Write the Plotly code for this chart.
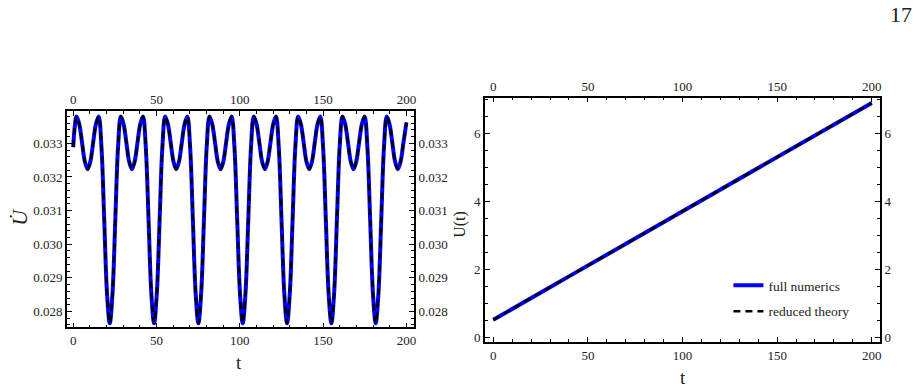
import plotly.graph_objects as go

W, H = 921, 392

# ---------------- data ----------------
t_udot = [0.00, 1.00,
          2.00, 3.66, 5.33, 6.99, 8.65, 10.31, 11.98, 13.64, 15.30, 16.96, 18.63, 20.29, 21.95, 23.61, 25.28, 26.94,
          28.60, 30.26, 31.93, 33.59, 35.25, 36.91, 38.58, 40.24, 41.90, 43.56, 45.23, 46.89, 48.55, 50.21, 51.88, 53.54,
          55.20, 56.86, 58.53, 60.19, 61.85, 63.51, 65.18, 66.84, 68.50, 70.16, 71.83, 73.49, 75.15, 76.81, 78.48, 80.14,
          81.80, 83.46, 85.13, 86.79, 88.45, 90.11, 91.78, 93.44, 95.10, 96.76, 98.43, 100.09, 101.75, 103.41, 105.08, 106.74,
          108.40, 110.06, 111.73, 113.39, 115.05, 116.71, 118.38, 120.04, 121.70, 123.36, 125.03, 126.69, 128.35, 130.01, 131.68, 133.34,
          135.00, 136.66, 138.33, 139.99, 141.65, 143.31, 144.98, 146.64, 148.30, 149.96, 151.63, 153.29, 154.95, 156.61, 158.28, 159.94,
          161.60, 163.26, 164.93, 166.59, 168.25, 169.91, 171.58, 173.24, 174.90, 176.56, 178.23, 179.89, 181.55, 183.21, 184.88, 186.54,
          188.20, 189.86, 191.53, 193.19, 194.85, 196.51, 198.18, 200.00]

udot_full = [0.03289, 0.03352,
             0.03380, 0.03357, 0.03302, 0.03246, 0.03223, 0.03246, 0.03302, 0.03357, 0.03380, 0.03290, 0.03073, 0.02855, 0.02765, 0.02855, 0.03073, 0.03290,
             0.03380, 0.03357, 0.03302, 0.03246, 0.03223, 0.03246, 0.03302, 0.03357, 0.03380, 0.03290, 0.03073, 0.02855, 0.02765, 0.02855, 0.03073, 0.03290,
             0.03380, 0.03357, 0.03302, 0.03246, 0.03223, 0.03246, 0.03302, 0.03357, 0.03380, 0.03290, 0.03073, 0.02855, 0.02765, 0.02855, 0.03073, 0.03290,
             0.03380, 0.03357, 0.03302, 0.03246, 0.03223, 0.03246, 0.03302, 0.03357, 0.03380, 0.03290, 0.03073, 0.02855, 0.02765, 0.02855, 0.03073, 0.03290,
             0.03380, 0.03357, 0.03302, 0.03246, 0.03223, 0.03246, 0.03302, 0.03357, 0.03380, 0.03290, 0.03073, 0.02855, 0.02765, 0.02855, 0.03073, 0.03290,
             0.03380, 0.03357, 0.03302, 0.03246, 0.03223, 0.03246, 0.03302, 0.03357, 0.03380, 0.03290, 0.03073, 0.02855, 0.02765, 0.02855, 0.03073, 0.03290,
             0.03380, 0.03357, 0.03302, 0.03246, 0.03223, 0.03246, 0.03302, 0.03357, 0.03380, 0.03290, 0.03073, 0.02855, 0.02765, 0.02855, 0.03073, 0.03290,
             0.03380, 0.03357, 0.03302, 0.03246, 0.03223, 0.03246, 0.03302, 0.03362]

udot_reduced = list(udot_full)  # indistinguishable from the full numerics

t_u = [0, 10, 20, 30, 40, 50, 60, 70, 80, 90, 100, 110, 120, 130, 140, 150, 160, 170, 180, 190, 200]
u_full = [0.51, 0.84, 1.16, 1.47, 1.79, 2.11, 2.43, 2.75, 3.06, 3.38, 3.70,
          4.02, 4.34, 4.66, 4.97, 5.29, 5.61, 5.93, 6.25, 6.57, 6.90]
u_reduced = list(u_full)

x_ticks = [0, 50, 100, 150, 200]
udot_ticks = [0.028, 0.029, 0.030, 0.031, 0.032, 0.033]
u_ticks = [0, 2, 4, 6]

# ---------------- figure ----------------
SERIF = "Liberation Serif, Times New Roman, serif"
BLUE = "#0000ff"

fig = go.Figure()
fig.add_trace(go.Scatter(x=t_udot, y=udot_full, mode="lines", xaxis="x", yaxis="y",
                         line=dict(color=BLUE, width=4, shape="spline"),
                         showlegend=False, hoverinfo="skip"))
fig.add_trace(go.Scatter(x=t_udot, y=udot_reduced, mode="lines", xaxis="x2", yaxis="y2",
                         line=dict(color="black", width=2.5, dash="7px,5px", shape="spline"),
                         showlegend=False, hoverinfo="skip"))
fig.add_trace(go.Scatter(x=t_u, y=u_full, mode="lines", xaxis="x3", yaxis="y3",
                         name="full numerics", legend="legend",
                         line=dict(color=BLUE, width=4), hoverinfo="skip"))
fig.add_trace(go.Scatter(x=t_u, y=u_reduced, mode="lines", xaxis="x4", yaxis="y4",
                         name="reduced theory", legend="legend2",
                         line=dict(color="black", width=2.5, dash="7px,5px"), hoverinfo="skip"))


def axis(**kw):
    d = dict(showgrid=False, zeroline=False, showline=True, linecolor="black", linewidth=1.6,
             ticks="inside", ticklen=5, tickwidth=1, tickcolor="black",
             tickfont=dict(family=SERIF, size=13, color="#222"),
             minor=dict(ticks="inside", ticklen=3, tickwidth=1, tickcolor="black"))
    d.update(kw)
    return d


LX = [67 / W, 415 / W]
LY = [1 - 329 / H, 1 - 112 / H]
RX = [486 / W, 882 / W]
RY = [1 - 344 / H, 1 - 98 / H]

lxr = [-3.8, 204.6]
lyr = [0.02753, 0.03395]
rxr = [-4.4, 204.4]
ryr = [-0.15, 7.06]

xminor = dict(ticks="inside", ticklen=3, tickwidth=1, tickcolor="black", dtick=10, tick0=0)

fig.update_layout(
    width=W, height=H, margin=dict(l=0, r=0, t=0, b=0),
    paper_bgcolor="white", plot_bgcolor="white",
    xaxis=axis(domain=LX, range=lxr, anchor="y", side="bottom", tickvals=x_ticks, minor=xminor),
    xaxis2=axis(overlaying="x", range=lxr, anchor="y", side="top", tickvals=x_ticks, minor=xminor),
    yaxis=axis(domain=LY, range=lyr, anchor="x", side="left", tickvals=udot_ticks, tickformat=".3f",
               minor=dict(ticks="inside", ticklen=3, tickwidth=1, tickcolor="black", dtick=0.0002, tick0=0.028)),
    yaxis2=axis(overlaying="y", range=lyr, anchor="x", side="right", tickvals=udot_ticks, tickformat=".3f",
                minor=dict(ticks="inside", ticklen=3, tickwidth=1, tickcolor="black", dtick=0.0002, tick0=0.028)),
    xaxis3=axis(domain=RX, range=rxr, anchor="y3", side="bottom", tickvals=x_ticks, minor=xminor),
    xaxis4=axis(overlaying="x3", range=rxr, anchor="y3", side="top", tickvals=x_ticks, minor=xminor),
    yaxis3=axis(domain=RY, range=ryr, anchor="x3", side="left", tickvals=u_ticks,
                minor=dict(ticks="inside", ticklen=3, tickwidth=1, tickcolor="black", dtick=0.5, tick0=0)),
    yaxis4=axis(overlaying="y3", range=ryr, anchor="x3", side="right", tickvals=u_ticks,
                minor=dict(ticks="inside", ticklen=3, tickwidth=1, tickcolor="black", dtick=0.5, tick0=0)),
    legend=dict(x=730 / W, y=1 - 287 / H, xanchor="left", yanchor="middle",
                bgcolor="rgba(0,0,0,0)", font=dict(family=SERIF, size=13.5, color="#222")),
    legend2=dict(x=730 / W, y=1 - 313 / H, xanchor="left", yanchor="middle",
                 bgcolor="rgba(0,0,0,0)", font=dict(family=SERIF, size=13.5, color="#222")),
)

ann = [
    dict(text="<i>U\u0307</i>", x=20 / W, y=1 - 218 / H, textangle=-90, font=dict(size=22)),
    dict(text="t", x=240 / W, y=1 - 364 / H, font=dict(size=19)),
    dict(text="t", x=684 / W, y=1 - 379 / H, font=dict(size=19)),
    dict(text="U(t)", x=461 / W, y=1 - 225 / H, textangle=-90, font=dict(size=16)),
    dict(text="17", x=903 / W, y=1 - 15 / H, font=dict(size=22)),
]
for a in ann:
    a.update(xref="paper", yref="paper", showarrow=False, xanchor="center", yanchor="middle")
    a["font"].update(family=SERIF, color="#222")
fig.update_layout(annotations=ann)

fig.write_html("out.html")
